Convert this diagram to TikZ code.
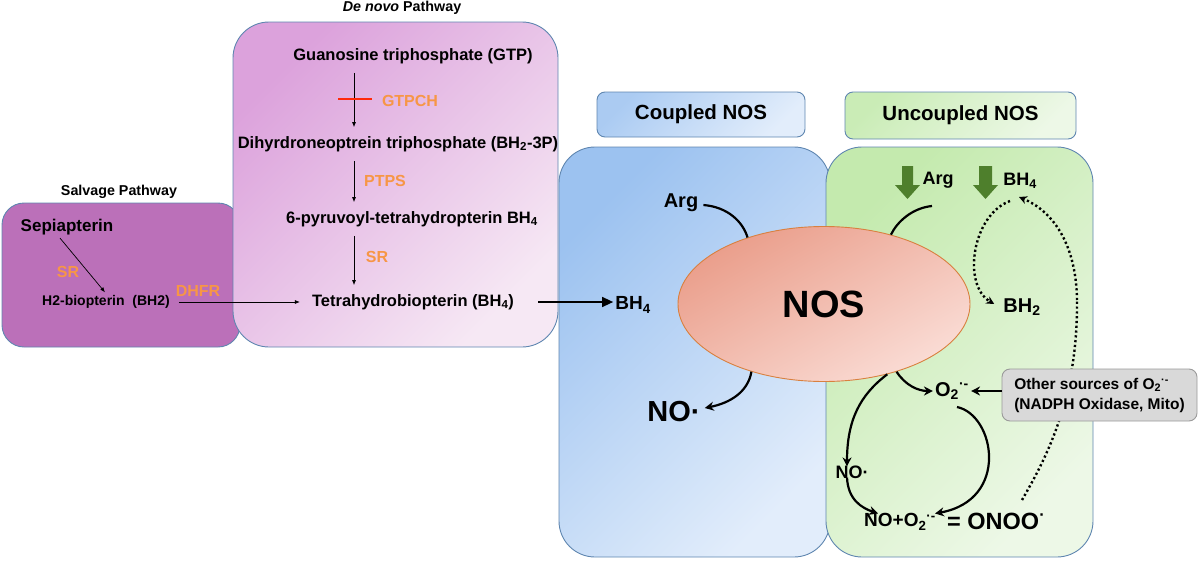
\documentclass[tikz,border=0pt]{standalone}
\usepackage{fontspec}
\setmainfont{Liberation Sans}
\usetikzlibrary{arrows.meta,shapes.geometric}
\definecolor{bord}{HTML}{5F86B0}
\definecolor{salvc}{HTML}{BB70B9}
\definecolor{dnA}{HTML}{DCA2DC}
\definecolor{dnB}{HTML}{F6E8F4}
\definecolor{cpA}{HTML}{9CC2F0}
\definecolor{cpB}{HTML}{E2EDFB}
\definecolor{ucA}{HTML}{C4EAAE}
\definecolor{ucB}{HTML}{EDF8E7}
\definecolor{elA}{HTML}{EA9E8B}
\definecolor{elB}{HTML}{FADCD5}
\definecolor{elD}{HTML}{D9803F}
\definecolor{enzc}{HTML}{F79646}
\definecolor{grn}{HTML}{4E7F2C}
\definecolor{redbar}{HTML}{FF2A0A}
\definecolor{grayf}{HTML}{D9D9D9}
\definecolor{grayd}{HTML}{9A9A9A}
\newcommand{\fs}[1]{\fontsize{#1}{#1}\selectfont}
\newcommand{\Otwo}{O\textsubscript{2}\textsuperscript{·-}}
\begin{document}
\begin{tikzpicture}[x=1pt,y=-1pt,
  txt/.style={font=\bfseries\fs{16.5}, inner sep=0pt},
  enz/.style={font=\bfseries\fs{16}, text=enzc, inner sep=0pt},
  ttl/.style={font=\bfseries\fs{14.3}, inner sep=0pt},
  big/.style={font=\bfseries\fs{20}, inner sep=1pt},
  boxs/.style={draw=bord, line width=0.9pt},
  arr/.style={-{Latex[length=5pt,width=4pt]}, line width=0.7pt},
  carr/.style={-{Stealth[length=9pt,width=9pt]}, line width=2.2pt},
  cline/.style={line width=2.2pt},
  dotl/.style={line width=2.4pt, dash pattern=on 2.2pt off 2.6pt},
  dotarr/.style={dotl, -{Stealth[length=8pt,width=8pt]}},
]
\useasboundingbox (0,0) rectangle (1200,562);
% boxes
\node[boxs, fill=salvc, rounded corners=22pt, minimum width=238pt, minimum height=144pt] (salv) at (121,275) {};
\node[boxs, top color=dnA, bottom color=dnB, shading angle=45, rounded corners=36pt, minimum width=325pt, minimum height=325pt] (dn) at (395.5,184.5) {};
\node[boxs, top color=cpA, bottom color=cpB, shading angle=45, rounded corners=36pt, minimum width=271pt, minimum height=410pt] (cp) at (694.5,352) {};
\node[boxs, top color=ucA, bottom color=ucB, shading angle=45, rounded corners=36pt, minimum width=267pt, minimum height=410pt] (uc) at (959.5,352) {};
\node[boxs, top color=cpA!85, bottom color=cpB, shading angle=45, rounded corners=8pt, minimum width=208pt, minimum height=45pt, font=\bfseries\fs{20.5}] (cpl) at (701,114.5) {Coupled NOS};
\node[boxs, top color=ucA!90, bottom color=ucB, shading angle=45, rounded corners=8pt, minimum width=231pt, minimum height=47pt, font=\bfseries\fs{20.5}] (ucl) at (960.5,115.5) {Uncoupled NOS};
% titles
\node[ttl] (salvt) at (119,192) {Salvage Pathway};
\node[ttl] (dnt) at (402,8) {\textit{De novo} Pathway};
% salvage
\node[txt, font=\bfseries\fs{17}, inner sep=3pt] (sep) at (67,227) {Sepiapterin};
\node[enz] (sr1) at (68,272) {SR};
\node[txt, font=\bfseries\fs{14}, inner sep=3pt] (h2b) at (106,302) {H2-biopterin~ (BH2)};
\node[enz] (dhfr) at (198,291) {DHFR};
% de novo
\node[txt, inner sep=4pt] (gtp) at (413,56) {Guanosine triphosphate (GTP)};
\node[enz] (gtpch) at (410,101) {GTPCH};
\node[txt, inner sep=4pt] (dhn) at (398,144) {Dihyrdroneoptrein triphosphate (BH\textsubscript{2}-3P)};
\node[enz] (ptps) at (385,181) {PTPS};
\node[txt, inner sep=4pt] (pyr) at (412,219) {6-pyruvoyl-tetrahydropterin BH\textsubscript{4}};
\node[enz] (sr2) at (377,257) {SR};
\node[txt, inner sep=4pt] (thb) at (413,302) {Tetrahydrobiopterin (BH\textsubscript{4})};
\coordinate (ax) at (354,0);
\draw[arr, shorten <=5pt, shorten >=5pt] (gtp.south -| ax) -- (dhn.north -| ax);
\draw[redbar, line width=1.8pt] (338,99) -- (372,99);
\draw[arr, shorten <=5pt, shorten >=5pt] (dhn.south -| ax) -- (pyr.north -| ax);
\draw[arr, shorten <=5pt, shorten >=5pt] (pyr.south -| ax) -- (thb.north -| ax);
\draw[arr] ([xshift=-7pt]sep.south) -- ([xshift=-1pt]h2b.north);
\draw[arr, shorten <=6pt, shorten >=8pt] (h2b.east) -- (thb.west);
% coupled
\node[ellipse, draw=elD, line width=0.9pt, top color=elA, bottom color=elB, shading angle=30, minimum width=292pt, minimum height=155pt, inner sep=0pt, font=\bfseries\fs{38}] (nos) at (824,304) {NOS};
\node[font=\bfseries\fs{19}, inner sep=2pt] (bh4c) at (633,305) {BH\textsubscript{4}};
\draw[line width=1.4pt, -{Triangle[length=11pt,width=10pt]}, shorten <=20pt] (thb.east) -- (thb.east -| bh4c.west);
\node[big] (argc) at (681,203) {Arg};
\node[font=\bfseries\fs{29}, inner sep=2pt] (noc) at (674,412) {NO·};
\draw[cline] ([xshift=4pt,yshift=-2pt]argc.east) .. controls (728,207) and (743,222) .. (nos.139);
\draw[carr] (nos.223) .. controls (748,392) and (730,403) .. ([xshift=2pt,yshift=4pt]noc.east);
% uncoupled
\node[font=\bfseries\fs{18}, inner sep=1pt] (argu) at (938,180) {Arg};
\node[font=\bfseries\fs{18}, inner sep=1pt] (bh4u) at (1020,181) {BH\textsubscript{4}};
\node[big] (bh2u) at (1022,307) {BH\textsubscript{2}};
\node[big] (o2) at (952,391) {\Otwo};
\node[font=\bfseries\fs{18}, inner sep=1pt] (nou) at (852,472) {NO·};
\node[font=\bfseries\fs{19}, inner sep=1pt] (nono) at (900,522) {NO+\Otwo};
\node[font=\bfseries\fs{23.5}, inner sep=1pt, anchor=west] (onoo) at (946,521) {= ONOO\textsuperscript{·}};
\fill[grn] (902,166) -- (913,166) -- (913,185) -- (920,185) -- (907.5,199) -- (895,185) -- (902,185) -- cycle;
\fill[grn] (979,166) -- (992,166) -- (992,185) -- (998,185) -- (985.5,199) -- (973,185) -- (979,185) -- cycle;
\coordinate (argcs) at (932,206);
\draw[cline] (argcs) .. controls (912,208) and (897,222) .. (nos.46);
\coordinate (bhs) at (1010,201);
\draw[dotarr] (bhs) .. controls (972,215) and (962,285) .. ([xshift=-8pt,yshift=3pt]bh2u.west);
\coordinate (ons) at (1022,500);
\coordinate (bhe) at (1019,197);
\draw[dotl] (ons) .. controls (1045,460) and (1078,400) .. (1077,300);
\draw[dotarr] (1077,300) .. controls (1076,240) and (1050,210) .. (bhe);
\draw[carr] (nos.317) .. controls (905,385) and (918,391) .. ([xshift=-1pt]o2.west);
\draw[carr] (nos.312) .. controls (860,395) and (847,420) .. ([xshift=-5pt,yshift=-2pt]nou.north);
\draw[carr] ([xshift=-5pt,yshift=2pt]nou.south) .. controls (848,500) and (862,508) .. ([xshift=-22pt,yshift=-1pt]nono.north);
\draw[carr] (957,407) .. controls (995,415) and (1010,500) .. ([xshift=35pt,yshift=-1pt]nono.north);
\node[draw=grayd, fill=grayf, line width=0.9pt, rounded corners=8pt, minimum width=195pt, minimum height=52pt, align=left, font=\bfseries\fontsize{15.5}{20}\selectfont, inner sep=3pt] (other) at (1099.5,395) {Other sources of \Otwo\\(NADPH Oxidase, Mito)};
\draw[carr] (other.west |- o2.east) -- ([xshift=1pt]o2.east);
\end{tikzpicture}
\end{document}
